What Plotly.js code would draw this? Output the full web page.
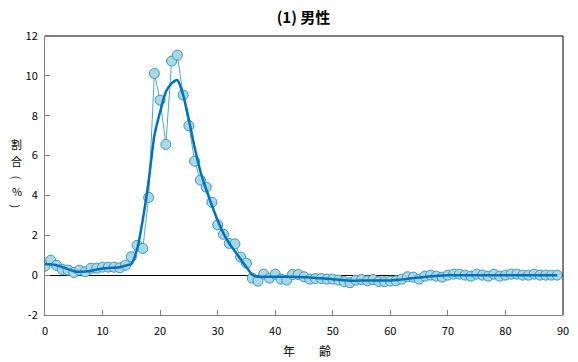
<!DOCTYPE html>
<html>
<head>
<meta charset="utf-8">
<script src="https://cdn.plot.ly/plotly-3.0.1.min.js"></script>
<style>html,body{margin:0;padding:0;background:#fff;}#chart{width:578px;height:362px;}</style>
</head>
<body>
<div id="chart"></div>
<script>
// ages 0..89
const ages = Array.from({length: 90}, (_, i) => i);

// observed share (%) by age
const observed = [
  0.45, 0.75, 0.49, 0.29, 0.25, 0.13, 0.25, 0.17, 0.35, 0.35,
  0.40, 0.40, 0.40, 0.37, 0.50, 0.92, 1.50, 1.34, 3.90, 10.12,
  8.78, 6.56, 10.74, 11.04, 9.04, 7.50, 5.72, 4.77, 4.42, 3.66,
  2.52, 2.05, 1.59, 1.57, 0.90, 0.60, -0.15, -0.30, 0.05, -0.15,
  0.05, -0.20, -0.25, 0.03, 0.03, -0.08, -0.20, -0.17, -0.17, -0.20,
  -0.20, -0.25, -0.33, -0.38, -0.25, -0.22, -0.28, -0.22, -0.32, -0.33,
  -0.30, -0.28, -0.20, -0.08, -0.10, -0.20, -0.05, 0.00, -0.05, -0.10,
  0.00, 0.05, 0.05, 0.00, -0.05, 0.05, 0.00, -0.05, 0.05, -0.05,
  0.00, 0.05, 0.05, 0.00, 0.00, 0.05, 0.00, 0.00, 0.00, 0.00
];

// smoothed share (%) by age
const smoothed = [
  0.55, 0.55, 0.50, 0.40, 0.30, 0.20, 0.17, 0.18, 0.22, 0.28,
  0.33, 0.36, 0.37, 0.40, 0.48, 0.56, 1.30, 2.80, 4.70, 7.00,
  8.20, 9.20, 9.62, 9.79, 9.05, 7.80, 6.40, 5.20, 4.30, 3.50,
  2.75, 2.10, 1.60, 1.20, 0.80, 0.40, 0.02, -0.08, -0.08, -0.08,
  -0.08, -0.08, -0.08, -0.08, -0.09, -0.10, -0.12, -0.14, -0.16, -0.18,
  -0.20, -0.23, -0.26, -0.28, -0.28, -0.27, -0.27, -0.27, -0.27, -0.27,
  -0.27, -0.25, -0.22, -0.18, -0.15, -0.12, -0.09, -0.06, -0.04, -0.02,
  0.00, 0.00, 0.00, 0.00, 0.00, 0.00, 0.00, 0.00, 0.00, 0.00,
  0.00, 0.00, 0.00, 0.00, 0.00, 0.00, 0.00, 0.00, 0.00, 0.00
];

const xTicks = [0, 10, 20, 30, 40, 50, 60, 70, 80, 90];
const yTicks = [-2, 0, 2, 4, 6, 8, 10, 12];

const cjk = '"Noto Sans CJK JP", "DejaVu Sans", sans-serif';
const tickFont = {family: cjk, size: 11, color: '#000'};

const traces = [
  {
    x: ages, y: observed, type: 'scatter', mode: 'lines+markers',
    line: {color: '#4BACC6', width: 1},
    marker: {size: 10, color: '#A8D8E8', line: {color: '#3E97B0', width: 1}},
    hoverinfo: 'x+y'
  },
  {
    x: ages, y: smoothed, type: 'scatter', mode: 'lines',
    line: {color: '#0070C0', width: 2.5, shape: 'spline', smoothing: 0.6},
    hoverinfo: 'x+y'
  }
];

function vchar(t, y, angle) {
  return {text: t, xref: 'paper', yref: 'paper', x: -0.055, y: y,
          xanchor: 'center', yanchor: 'middle', showarrow: false, textangle: angle || 0,
          font: {family: cjk, size: 11, color: '#000'}};
}

const layout = {
  width: 578, height: 362,
  margin: {l: 45, r: 15, t: 36, b: 47},
  paper_bgcolor: '#fff', plot_bgcolor: '#fff',
  showlegend: false,
  title: {text: '<b>(1) 男性</b>', x: 0.525, xanchor: 'center', y: 0.95, yanchor: 'middle',
          font: {family: cjk, size: 15, color: '#000'}},
  xaxis: {
    range: [0, 90], tickvals: xTicks, ticktext: xTicks.map(String),
    ticks: 'inside', ticklen: 5, tickcolor: '#808080',
    showline: true, linecolor: '#808080', linewidth: 1,
    showgrid: false, zeroline: false, tickfont: tickFont, ticklabelstandoff: 6
  },
  yaxis: {
    range: [-2, 12], tickvals: yTicks, ticktext: yTicks.map(String),
    ticks: 'inside', ticklen: 5, tickcolor: '#808080',
    showline: true, linecolor: '#808080', linewidth: 1,
    showgrid: false, zeroline: true, zerolinecolor: '#000', zerolinewidth: 1,
    tickfont: tickFont, ticklabelstandoff: 4
  },
  shapes: [
    {type: 'line', xref: 'paper', yref: 'paper', x0: 0, x1: 1, y0: 1, y1: 1, line: {color: '#000', width: 1}},
    {type: 'line', xref: 'paper', yref: 'paper', x0: 1, x1: 1, y0: 0, y1: 1, line: {color: '#000', width: 1}}
  ],
  annotations: [
    vchar('割', 0.613),
    vchar('合', 0.553),
    vchar('(', 0.494, 90),
    vchar('%', 0.444),
    vchar(')', 0.391, 90),
    {text: '年　　齢', xref: 'paper', yref: 'paper', x: 0.505, y: -0.129,
     xanchor: 'center', yanchor: 'middle', showarrow: false,
     font: {family: cjk, size: 12, color: '#000'}}
  ]
};

Plotly.newPlot('chart', traces, layout, {displayModeBar: false, staticPlot: true});
</script>
</body>
</html>
